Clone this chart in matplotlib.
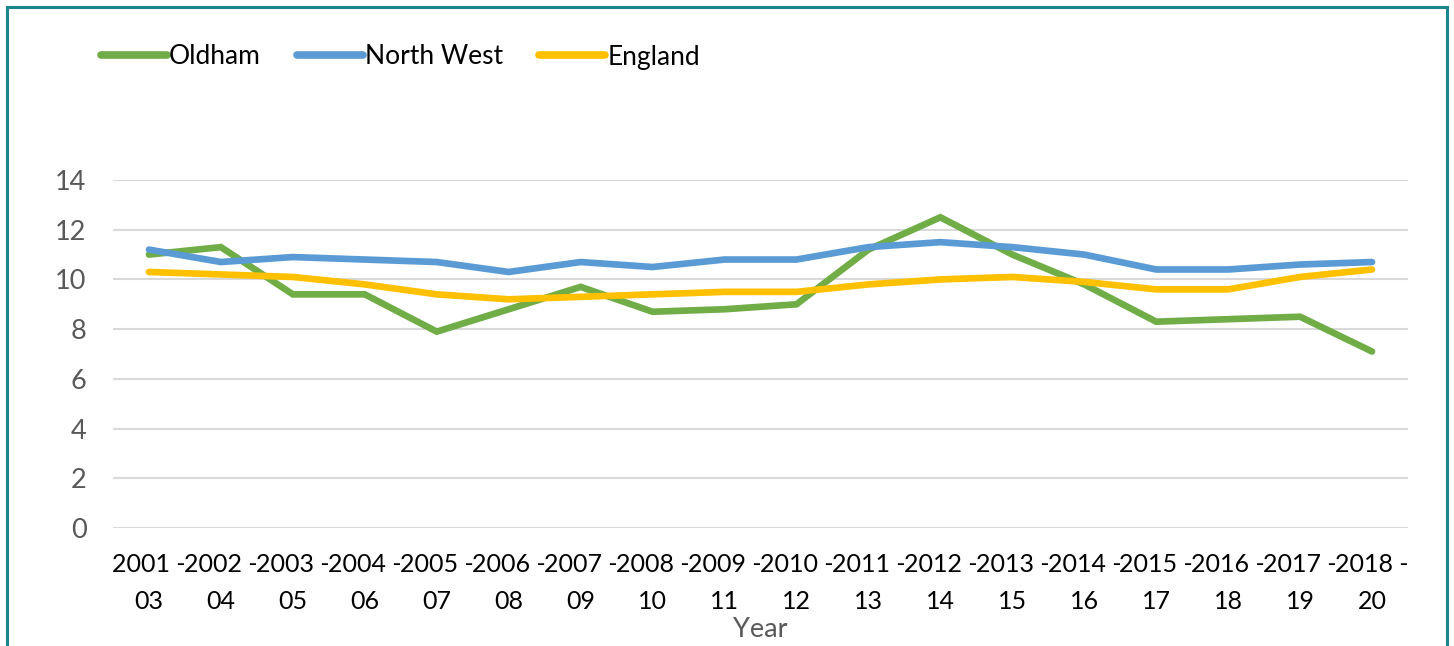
import matplotlib
matplotlib.use("Agg")
import matplotlib.pyplot as plt
from matplotlib.patches import Rectangle

plt.rcParams['font.family'] = ['Lato', 'DejaVu Sans']

categories = ["2001 -\n03", "2002 -\n04", "2003 -\n05", "2004 -\n06", "2005 -\n07", "2006 -\n08",
              "2007 -\n09", "2008 -\n10", "2009 -\n11", "2010 -\n12", "2011 -\n13", "2012 -\n14",
              "2013 -\n15", "2014 -\n16", "2015 -\n17", "2016 -\n18", "2017 -\n19", "2018 -\n20"]
oldham = [11.0, 11.3, 9.4, 9.4, 7.9, 8.8, 9.7, 8.7, 8.8, 9.0, 11.2, 12.5, 11.0, 9.8, 8.3, 8.4, 8.5, 7.1]
north_west = [11.2, 10.7, 10.9, 10.8, 10.7, 10.3, 10.7, 10.5, 10.8, 10.8, 11.3, 11.5, 11.3, 11.0, 10.4, 10.4, 10.6, 10.7]
england = [10.3, 10.2, 10.1, 9.8, 9.4, 9.2, 9.3, 9.4, 9.5, 9.5, 9.8, 10.0, 10.1, 9.9, 9.6, 9.6, 10.1, 10.4]
yticks = [0, 2, 4, 6, 8, 10, 12, 14]

W, H = 1454, 646
fig = plt.figure(figsize=(W / 100, H / 100), dpi=100)
ax = fig.add_axes([113 / W, 1 - 528 / H, (1408 - 113) / W, (528 - 180) / H])

x = list(range(len(categories)))
lw = 4.8
ax.plot(x, oldham, color='#70AD47', lw=lw, label='Oldham', solid_capstyle='round', solid_joinstyle='miter')
ax.plot(x, north_west, color='#5B9BD5', lw=lw, label='North West', solid_capstyle='round', solid_joinstyle='miter')
ax.plot(x, england, color='#FFC000', lw=lw, label='England', solid_capstyle='round', solid_joinstyle='miter')

ax.set_xlim(-0.5, len(categories) - 0.5)
ax.set_ylim(0, 14)
ax.set_yticks(yticks)
ax.set_yticklabels([str(v) for v in yticks])
ax.set_xticks(x)
ax.set_xticklabels(categories, linespacing=1.75)
ax.grid(axis='y', color='#D9D9D9', lw=1.5)
ax.set_axisbelow(True)
for s in ax.spines.values():
    s.set_visible(False)
ax.tick_params(axis='both', length=0)
ax.tick_params(axis='y', labelsize=19.5, labelcolor='#595959', pad=19)
ax.tick_params(axis='x', labelsize=18, labelcolor='black', pad=18)
ax.set_xlabel('Year', fontsize=19.5, color='#595959', labelpad=3)

fig.legend(loc='center left', bbox_to_anchor=(90 / W, 1 - 57 / H), ncol=3, frameon=False,
           fontsize=19, handlelength=2.5, handletextpad=0.1, columnspacing=1.35, borderaxespad=0)
for line in fig.legends[0].get_lines():
    line.set_linewidth(5.5)

fig.patches.append(Rectangle((7 / W, -0.05), (1447 - 7) / W, 1 - 7 / H + 0.05, transform=fig.transFigure,
                             fill=False, edgecolor='#17868F', lw=2.2))

fig.savefig('out.png', dpi=100)
